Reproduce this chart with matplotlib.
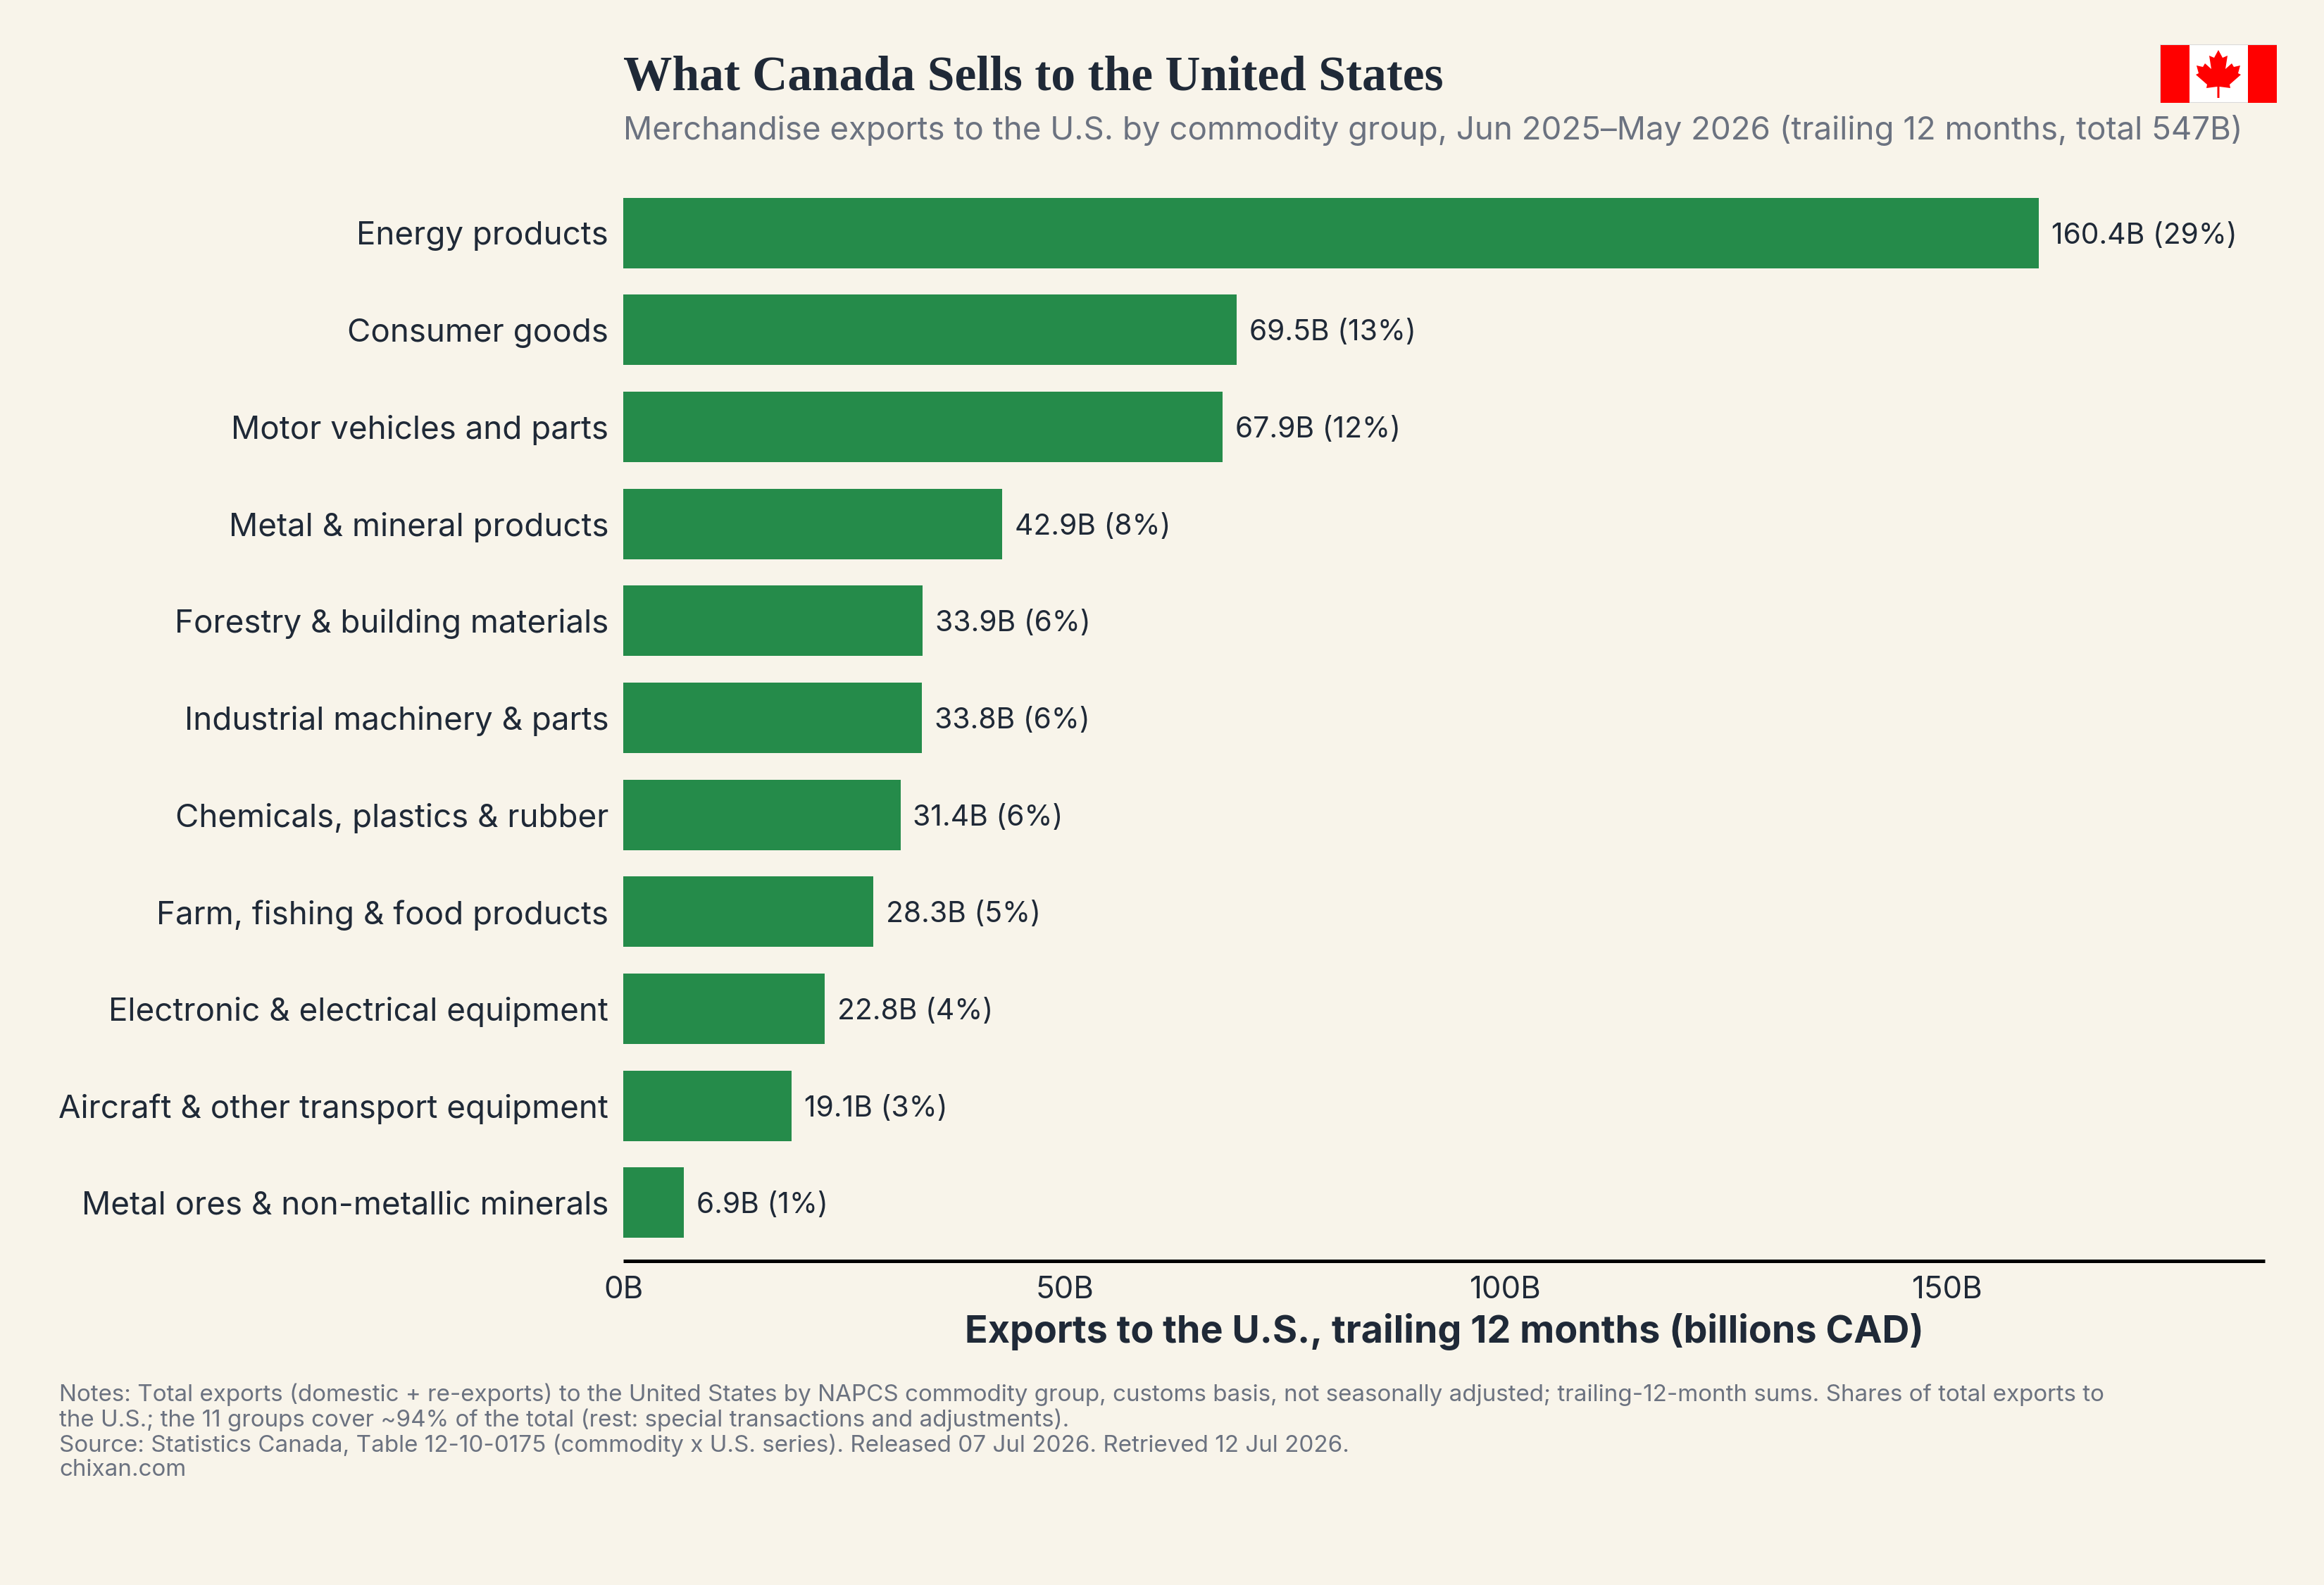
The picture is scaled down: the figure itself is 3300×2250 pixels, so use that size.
import matplotlib
matplotlib.use('Agg')
import matplotlib.pyplot as plt
from matplotlib.patches import Polygon, Rectangle

BG = '#F8F4EA'
GREEN = '#258B4A'
INK = '#1F2937'
GRAY = '#6B7280'

plt.rcParams['font.family'] = ['Inter', 'DejaVu Sans']

categories = ['Energy products', 'Consumer goods', 'Motor vehicles and parts',
              'Metal & mineral products', 'Forestry & building materials',
              'Industrial machinery & parts', 'Chemicals, plastics & rubber',
              'Farm, fishing & food products', 'Electronic & electrical equipment',
              'Aircraft & other transport equipment', 'Metal ores & non-metallic minerals']
values = [160.4, 69.5, 67.9, 42.9, 33.9, 33.8, 31.4, 28.3, 22.8, 19.1, 6.9]
shares = [29, 13, 12, 8, 6, 6, 6, 5, 4, 3, 1]
x_ticks = [0, 50, 100, 150]

W, H = 3300, 2250
fig = plt.figure(figsize=(11, 7.5), dpi=300, facecolor=BG)


def px_rect(left, top, right, bottom):
    return [left / W, 1 - bottom / H, (right - left) / W, (bottom - top) / H]


ax = fig.add_axes(px_rect(885, 248, 3216, 1790), facecolor=BG)
ypos = list(range(len(categories)))
ax.barh(ypos, values, height=0.725, color=GREEN)
ax.set_ylim(len(categories) - 0.4, -0.6)
ax.set_xlim(0, 186)

ax.set_yticks(ypos)
ax.set_yticklabels(categories, fontsize=10.97, color=INK)
ax.set_xticks(x_ticks)
ax.set_xticklabels([f'{t}B' for t in x_ticks], fontsize=10.5, color=INK)
ax.tick_params(length=0)
ax.tick_params(axis='y', pad=5)
ax.tick_params(axis='x', pad=5)
for side in ['top', 'right', 'left']:
    ax.spines[side].set_visible(False)
ax.spines['bottom'].set_linewidth(1.2)
ax.spines['bottom'].set_color('black')
ax.spines['bottom'].set_capstyle('butt')
ax.set_xlabel('Exports to the U.S., trailing 12 months (billions CAD)',
              fontsize=12.95, fontweight='bold', color=INK, labelpad=3)

for y, v, s in zip(ypos, values, shares):
    ax.annotate(f'{v}B ({s}%)', (v, y), xytext=(4.3, 0), textcoords='offset points',
                va='center_baseline', ha='left', fontsize=9.8, color=INK)

# header
fig.text(885 / W, 1 - 111 / H, 'What Canada Sells to the United States',
         fontsize=16.65, fontweight='bold', family='Liberation Serif', color=INK,
         ha='left', va='center')
fig.text(885 / W, 1 - 185 / H,
         'Merchandise exports to the U.S. by commodity group, Jun 2025–May 2026 '
         '(trailing 12 months, total 547B)',
         fontsize=10.96, color=GRAY, ha='left', va='center')

# footer
fig.text(84 / W, 1 - 1964 / H,
         'Notes: Total exports (domestic + re-exports) to the United States by NAPCS commodity '
         'group, customs basis, not seasonally adjusted; trailing-12-month sums. Shares of total '
         'exports to\n'
         'the U.S.; the 11 groups cover ~94% of the total (rest: special transactions and '
         'adjustments).\n'
         'Source: Statistics Canada, Table 12-10-0175 (commodity x U.S. series). '
         'Released 07 Jul 2026. Retrieved 12 Jul 2026.\n'
         'chixan.com',
         fontsize=7.97, color=GRAY, ha='left', va='top', linespacing=1.13)

# flag, drawn on its own small axes
flag = fig.add_axes(px_rect(3067, 63, 3233, 146))
flag.set_xlim(0, 166)
flag.set_ylim(83, 0)
flag.axis('off')
flag.add_patch(Rectangle((0, 0), 166, 83, fc='white', ec='#D9D9D9', lw=0.5))
flag.add_patch(Rectangle((0.5, 0.5), 41, 82, fc='#FF0000', ec='none'))
flag.add_patch(Rectangle((124.5, 0.5), 41, 82, fc='#FF0000', ec='none'))
leaf = [(83, 8), (89, 19), (96, 16), (93, 35), (102, 27), (105, 32), (114, 30), (111, 41),
        (115, 43), (99, 57), (100, 62), (84.5, 60), (84.5, 76), (81.5, 76), (81.5, 60),
        (66, 62), (67, 57), (51, 43), (55, 41), (52, 30), (61, 32), (64, 27), (73, 35),
        (70, 16), (77, 19)]
flag.add_patch(Polygon(leaf, closed=True, fc='#FF0000', ec='none'))

fig.savefig('out.png', dpi=300, facecolor=BG)
